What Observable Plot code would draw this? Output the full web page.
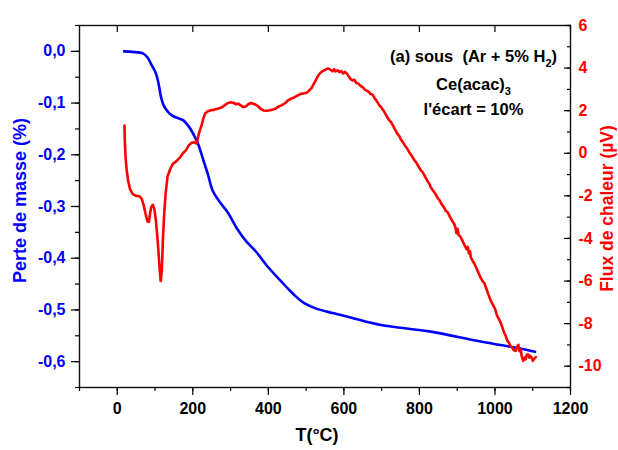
<!DOCTYPE html>
<html>
<head>
<meta charset="utf-8">
<script src="https://cdn.jsdelivr.net/npm/d3@7"></script>
<script src="https://cdn.jsdelivr.net/npm/@observablehq/plot@0.6"></script>
<style>
  html, body { margin: 0; padding: 0; background: #fff; }
  #chart { position: relative; width: 618px; height: 450px; }
</style>
</head>
<body>
<div id="chart"></div>
<script>
// ---- data ----
const tempMass = [18, 40, 68, 80, 90, 103, 110, 116, 122, 129, 138, 147, 160, 174, 191, 200, 213, 226, 240, 253, 270, 293, 319, 341, 367, 398, 442, 470, 495, 525, 570, 620, 698, 830, 962, 1077, 1106];
const massLoss = [0.0, -0.001, -0.004, -0.012, -0.025, -0.044, -0.065, -0.089, -0.103, -0.112, -0.120, -0.125, -0.129, -0.133, -0.147, -0.158, -0.177, -0.206, -0.238, -0.270, -0.290, -0.312, -0.345, -0.367, -0.387, -0.416, -0.451, -0.472, -0.487, -0.497, -0.506, -0.515, -0.529, -0.542, -0.561, -0.576, -0.581];

const tempHeat = [19, 20, 22, 25, 29, 34, 41, 50, 59, 65, 70, 75, 80, 84, 87, 90, 94, 98, 102, 106, 109, 112, 115, 118, 121, 124, 128, 133, 140, 147, 156, 165, 174, 182, 190, 196, 203, 209, 212, 215, 219, 224, 228, 233, 240, 248, 258, 268, 276, 284, 292, 300, 308, 315, 320, 327, 334, 340, 347, 354, 360, 366, 372, 380, 388, 396, 404, 412, 420, 428, 436, 444, 452, 460, 468, 476, 484, 490, 496, 502, 508, 514, 520, 526, 532, 538, 544, 550, 556, 561, 566, 570, 574, 578, 583, 588, 593, 598, 603, 608, 613, 618, 623, 628, 633, 638, 645, 650, 656, 662, 667, 671, 676, 681, 685, 689, 694, 699, 705, 710, 715, 720, 725, 730, 736, 742, 747, 752, 757, 762, 768, 773, 779, 785, 791, 797, 804, 809, 815, 821, 826, 830, 836, 842, 848, 853, 859, 865, 870, 875, 880, 886, 892, 895, 898, 901, 904, 908, 914, 919, 925, 928, 931, 934, 936, 941, 946, 951, 956, 962, 967, 972, 977, 983, 989, 994, 1000, 1006, 1011, 1015, 1020, 1025, 1029, 1033, 1037, 1041, 1045, 1050, 1055, 1058, 1062, 1065, 1068, 1071, 1075, 1078, 1081, 1085, 1088, 1091, 1094, 1097, 1100, 1104, 1108];
const heatFlow = [1.30, 0.6, -0.2, -0.8, -1.3, -1.7, -1.92, -2.0, -2.02, -2.15, -2.45, -2.85, -3.2, -3.22, -2.8, -2.52, -2.42, -2.6, -3.1, -3.9, -4.6, -5.4, -6.0, -5.5, -4.0, -2.9, -1.9, -1.1, -0.75, -0.5, -0.38, -0.22, 0.0, 0.15, 0.38, 0.48, 0.52, 0.46, 0.55, 0.85, 1.1, 1.35, 1.65, 1.88, 1.97, 2.02, 2.05, 2.1, 2.15, 2.25, 2.35, 2.40, 2.36, 2.30, 2.33, 2.25, 2.17, 2.2, 2.3, 2.36, 2.33, 2.28, 2.22, 2.08, 2.01, 2.0, 2.02, 2.05, 2.1, 2.2, 2.26, 2.35, 2.48, 2.56, 2.62, 2.7, 2.78, 2.8, 2.82, 2.85, 2.95, 3.05, 3.25, 3.45, 3.65, 3.78, 3.86, 3.92, 3.98, 3.97, 3.9, 3.85, 3.95, 3.84, 3.9, 3.81, 3.86, 3.75, 3.82, 3.74, 3.6, 3.48, 3.42, 3.45, 3.3, 3.27, 3.15, 3.1, 2.98, 2.93, 2.86, 2.78, 2.75, 2.6, 2.5, 2.40, 2.25, 2.15, 2.0, 1.85, 1.69, 1.55, 1.46, 1.3, 1.1, 0.91, 0.8, 0.62, 0.5, 0.35, 0.21, 0.05, -0.1, -0.28, -0.42, -0.6, -0.81, -0.9, -1.1, -1.3, -1.42, -1.6, -1.75, -1.9, -2.1, -2.2, -2.4, -2.54, -2.7, -2.78, -2.95, -3.15, -3.32, -3.45, -3.75, -3.55, -3.85, -3.9, -4.11, -4.3, -4.5, -4.4, -4.7, -4.6, -4.89, -5.05, -5.2, -5.4, -5.6, -5.84, -6.0, -6.1, -6.35, -6.65, -6.93, -7.1, -7.3, -7.65, -7.8, -7.95, -8.2, -8.45, -8.6, -8.81, -8.9, -9.05, -9.1, -9.25, -9.28, -9.1, -9.0, -9.3, -9.2, -9.55, -9.75, -9.6, -9.68, -9.45, -9.45, -9.6, -9.52, -9.6, -9.75, -9.65, -9.57];

const xTicks = [0, 200, 400, 600, 800, 1000, 1200];
const xMinorTicks = [-100, 0, 100, 200, 300, 400, 500, 600, 700, 800, 900, 1000, 1100, 1200];
const massTicks = [0, -0.1, -0.2, -0.3, -0.4, -0.5, -0.6];
const massMinorTicks = [0.05, 0, -0.05, -0.1, -0.15, -0.2, -0.25, -0.3, -0.35, -0.4, -0.45, -0.5, -0.55, -0.6, -0.65];
const heatTicks = [6, 4, 2, 0, -2, -4, -6, -8, -10];
const heatMinorTicks = [6, 5, 4, 3, 2, 1, 0, -1, -2, -3, -4, -5, -6, -7, -8, -9, -10, -11];

// annotation lines: [text, subscript, trailing text]
const annotationLines = [["(a) sous\u00a0\u00a0(Ar + 5% H", "2", ")"], ["Ce(acac)", "3", ""], ["l'écart = 10%", "", ""]];
const xTitle = "T(°C)";
const massTitle = "Perte de masse (%)";
const heatTitle = "Flux de chaleur (µV)";

// ---- tables ----
const massData = tempMass.map((T, i) => ({T, m: massLoss[i]}));
const heatData = tempHeat.map((T, i) => ({T, h: heatFlow[i]}));

const BLUE = "#0000ff", RED = "#ff0000";
const common = {
  width: 618, height: 450,
  marginLeft: 79, marginRight: 48, marginTop: 25, marginBottom: 63,
  style: {
    fontFamily: "'Liberation Sans', Arial, sans-serif",
    fontWeight: "bold", fontSize: "16px",
    background: "transparent", overflow: "visible",
    position: "absolute", left: "0px", top: "0px"
  }
};
const fmtMass = d => (Math.abs(d) < 1e-9 ? 0 : d).toFixed(1).replace(".", ",");
const annY = [25, 53, 78];

const p1 = Plot.plot({
  ...common,
  x: {domain: [-100, 1200]},
  y: {domain: [-0.65, 0.05]},
  marks: [
    Plot.axisY(massMinorTicks, {tickSize: 4, text: null, label: null, strokeWidth: 1.2}),
    Plot.axisY(massTicks, {tickSize: 8, text: null, label: null, strokeWidth: 1.2}),
    Plot.axisY(massTicks, {tickSize: 0, tickPadding: 14, tickFormat: fmtMass, label: null, fill: BLUE, fontSize: 16}),
    Plot.axisX(xMinorTicks, {tickSize: 4, text: null, label: null, strokeWidth: 1.2}),
    Plot.axisX(xTicks, {tickSize: 8, text: null, label: null, strokeWidth: 1.2}),
    Plot.axisX(xTicks, {tickSize: 0, tickPadding: 15, tickFormat: d => String(d), label: null, fill: "black", fontSize: 16}),
    Plot.axisX(xTicks, {anchor: "top", tickSize: -6, text: null, label: null, strokeWidth: 1.2}),
    Plot.frame({stroke: "#111", strokeWidth: 1.4}),
    Plot.line(massData, {x: "T", y: "m", stroke: BLUE, strokeWidth: 2.6, curve: "catmull-rom"}),
    Plot.text([massTitle], {frameAnchor: "left", textAnchor: "middle", dx: -59, dy: -6, rotate: -90, fill: BLUE, fontSize: 18, fontWeight: "bold"}),
    Plot.text([xTitle], {frameAnchor: "bottom", textAnchor: "middle", dx: -8, dy: 53, fill: "black", fontSize: 18, fontWeight: "bold"}),
    ...annotationLines.map((parts, i) =>
      Plot.text([parts.join("")], {frameAnchor: "top-right", textAnchor: "middle", dx: -97, dy: annY[i], fill: "black", fontSize: 16.5, fontWeight: "bold", className: "ann" + i}))
  ]
});

const p2 = Plot.plot({
  ...common,
  x: {domain: [-100, 1200], axis: null},
  y: {domain: [-11, 6]},
  marks: [
    Plot.axisY(heatMinorTicks, {anchor: "right", tickSize: -4, text: null, label: null, strokeWidth: 1.2}),
    Plot.axisY(heatTicks, {anchor: "right", tickSize: -7, text: null, label: null, strokeWidth: 1.2}),
    Plot.axisY(heatTicks, {anchor: "right", tickSize: 0, tickPadding: 8, tickFormat: d => String(d), label: null, fill: RED, fontSize: 16}),
    Plot.line(heatData, {x: "T", y: "h", stroke: RED, strokeWidth: 2.6}),
    Plot.text([heatTitle], {frameAnchor: "right", textAnchor: "middle", dx: 37, dy: 2, rotate: -90, fill: RED, fontSize: 17.5, fontWeight: "bold"})
  ]
});

// rebuild annotation texts with true subscripts
annotationLines.forEach((parts, i) => {
  d3.select(p1).selectAll(".ann" + i + " text").each(function () {
    const t = d3.select(this);
    t.text(null);
    t.append("tspan").text(parts[0]);
    if (parts[1]) {
      t.append("tspan").attr("dy", 5).attr("font-size", 11).text(parts[1]);
      if (parts[2]) t.append("tspan").attr("dy", -5).text(parts[2]);
    }
  });
});

const chart = document.getElementById("chart");
chart.appendChild(p1);
chart.appendChild(p2);
</script>
</body>
</html>
